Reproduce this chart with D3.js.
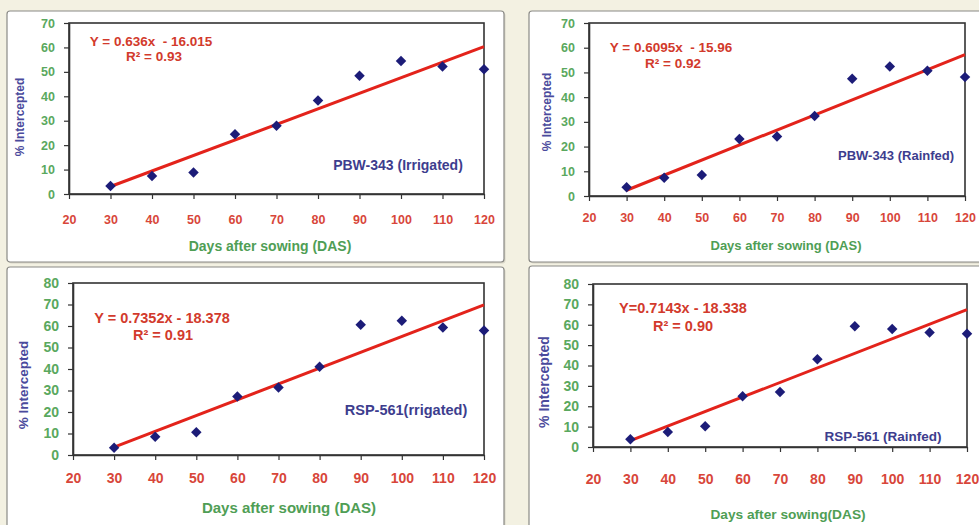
<!DOCTYPE html>
<html>
<head>
<meta charset="utf-8">
<script src="https://cdn.jsdelivr.net/npm/d3@7"></script>
<style>
  html, body { margin: 0; padding: 0; background: #f3f1e2; }
  svg { display: block; }
  text { font-family: "Liberation Sans", Arial, sans-serif; font-weight: bold; }
</style>
</head>
<body>
<svg id="chart" width="979" height="525"></svg>
<script>
// ---- data ----
const days = [30, 40, 50, 60, 70, 80, 90, 100, 110, 120];
const pbwIrrigated = [3.3, 7.4, 8.8, 24.5, 27.9, 38.3, 48.4, 54.4, 52.2, 51.1];
const pbwRainfed   = [3.5, 7.4, 8.5, 23.1, 24.1, 32.4, 47.4, 52.4, 50.7, 48.1];
const rspIrrigated = [3.4, 8.5, 10.6, 27.2, 31.4, 41.1, 60.6, 62.4, 59.3, 57.9];
const rspRainfed   = [3.8, 7.4, 10.2, 24.9, 27.0, 43.1, 59.3, 57.9, 56.2, 55.6];
const seriesNames  = ["PBW-343 (Irrigated)", "PBW-343 (Rainfed)", "RSP-561(rrigated)", "RSP-561 (Rainfed)"];
const slopes       = [0.636, 0.6095, 0.7352, 0.7143];
const intercepts   = [-16.015, -15.96, -18.378, -18.338];
const equations    = ["Y = 0.636x  - 16.015", "Y = 0.6095x  - 15.96", "Y = 0.7352x - 18.378", "Y=0.7143x - 18.338"];
const r2Labels     = ["R² = 0.93", "R² = 0.92", "R² = 0.91", "R² = 0.90"];
const xTicks       = [20, 30, 40, 50, 60, 70, 80, 90, 100, 110, 120];
const yTicksTop    = [0, 10, 20, 30, 40, 50, 60, 70];
const yTicksBottom = [0, 10, 20, 30, 40, 50, 60, 70, 80];
const xTitles      = ["Days after sowing (DAS)", "Days after sowing (DAS)", "Days after sowing (DAS)", "Days after sowing(DAS)"];
const yTitle       = "% Intercepted";

// ---- layout (styling only) ----
const seriesValues = [pbwIrrigated, pbwRainfed, rspIrrigated, rspRainfed];
const layouts = [
  { box: [7, 11, 497, 251],  plot: [69, 23, 484, 194],  yMax: 70, yTicks: yTicksTop,
    fs: 12.5, eqFs: 13.5, eq: [151, 46], r2: [154, 61], lab: [398, 170], labFs: 14,
    yt: [20, 117], ylFs: 12, xt: [270, 251], titleFs: 14, xlY: 219 },
  { box: [529, 11, 470, 251], plot: [589, 23, 965, 196], yMax: 70, yTicks: yTicksTop,
    fs: 12.5, eqFs: 13.5, eq: [671, 52], r2: [673, 68], lab: [896, 160], labFs: 13,
    yt: [547, 112], ylFs: 12, xt: [786, 250], titleFs: 13, xlY: 217 },
  { box: [7, 267, 497, 280], plot: [73, 283, 484, 455], yMax: 80, yTicks: yTicksBottom,
    fs: 14, eqFs: 14.5, eq: [162, 323], r2: [163, 340], lab: [406, 415], labFs: 14.5,
    yt: [24, 385], ylFs: 13.5, xt: [289, 513], titleFs: 15, xlY: 477 },
  { box: [529, 266, 470, 280], plot: [593, 284, 967, 447], yMax: 80, yTicks: yTicksBottom,
    fs: 14, eqFs: 14.5, eq: [683, 313], r2: [683, 331], lab: [883, 441], labFs: 13.5,
    yt: [545, 382], ylFs: 14, xt: [788, 519], titleFs: 13.7, xlY: 478 }
];

const svg = d3.select("#chart");

layouts.forEach((L, i) => {
  const g = svg.append("g");
  // panel box with faint shadow
  g.append("rect")
    .attr("x", L.box[0] + 1.5).attr("y", L.box[1] + 1.5)
    .attr("width", L.box[2]).attr("height", L.box[3])
    .attr("rx", 3).attr("fill", "#c9c7b8").attr("opacity", 0.6);
  g.append("rect")
    .attr("x", L.box[0]).attr("y", L.box[1])
    .attr("width", L.box[2]).attr("height", L.box[3])
    .attr("rx", 3).attr("fill", "#ffffff").attr("stroke", "#8a8a86").attr("stroke-width", 1.2);

  const [x0, y0, x1, y1] = L.plot;
  const x = d3.scaleLinear().domain([20, 120]).range([x0, x1]);
  const y = d3.scaleLinear().domain([0, L.yMax]).range([y1, y0]);

  // plot frame
  g.append("rect").attr("x", x0).attr("y", y0).attr("width", x1 - x0).attr("height", y1 - y0)
    .attr("fill", "#ffffff").attr("stroke", "#333333").attr("stroke-width", 1.6);

  // x axis
  const xa = g.append("g").attr("transform", `translate(0,${y1})`)
    .call(d3.axisBottom(x).tickValues(xTicks).tickSize(5).tickSizeOuter(0).tickPadding(L.xlY - y1 - 9));
  xa.select(".domain").attr("stroke", "#333").attr("stroke-width", 1.6);
  xa.selectAll(".tick line").attr("stroke", "#333").attr("stroke-width", 1.2);
  xa.selectAll(".tick text").attr("fill", "#d8463a").attr("font-size", L.fs)
    .attr("font-family", "'Liberation Sans', Arial, sans-serif").attr("font-weight", "bold");

  // y axis
  const ya = g.append("g").attr("transform", `translate(${x0},0)`)
    .call(d3.axisLeft(y).tickValues(L.yTicks).tickSize(5).tickSizeOuter(0).tickPadding(9));
  ya.select(".domain").attr("stroke", "#333").attr("stroke-width", 1.6);
  ya.selectAll(".tick line").attr("stroke", "#333").attr("stroke-width", 1.2);
  ya.selectAll(".tick text").attr("fill", "#5aa85e").attr("font-size", L.fs)
    .attr("font-family", "'Liberation Sans', Arial, sans-serif").attr("font-weight", "bold");

  // regression line
  const fit = d => slopes[i] * d + intercepts[i];
  const ends = [days[0], days[days.length - 1]];
  g.append("path")
    .datum(ends)
    .attr("d", d3.line().x(d => x(d)).y(d => y(fit(d))))
    .attr("stroke", "#e3231b").attr("stroke-width", 3).attr("fill", "none");

  // points
  const vals = seriesValues[i];
  g.selectAll("path.pt").data(days).enter().append("path")
    .attr("class", "pt")
    .attr("d", d3.symbol().type(d3.symbolDiamond2).size(70))
    .attr("transform", (d, k) => `translate(${x(d)},${y(vals[k])})`)
    .attr("fill", "#1c1c78");

  // equation texts
  g.append("text").attr("x", L.eq[0]).attr("y", L.eq[1]).attr("text-anchor", "middle")
    .attr("font-size", L.eqFs).attr("fill", "#d23a2c").style("white-space", "pre").text(equations[i]);
  g.append("text").attr("x", L.r2[0]).attr("y", L.r2[1]).attr("text-anchor", "middle")
    .attr("font-size", L.eqFs).attr("fill", "#d23a2c").text(r2Labels[i]);

  // series label
  g.append("text").attr("x", L.lab[0]).attr("y", L.lab[1]).attr("text-anchor", "middle")
    .attr("font-size", L.labFs).attr("fill", "#3d3d8e").text(seriesNames[i]);

  // axis titles
  g.append("text").attr("transform", `translate(${L.yt[0] + 4},${L.yt[1]}) rotate(-90)`)
    .attr("text-anchor", "middle").attr("font-size", L.ylFs).attr("fill", "#4a4a9c").text(yTitle);
  g.append("text").attr("x", L.xt[0]).attr("y", L.xt[1]).attr("text-anchor", "middle")
    .attr("font-size", L.titleFs).attr("fill", "#4f9e55").text(xTitles[i]);
});
</script>
</body>
</html>
